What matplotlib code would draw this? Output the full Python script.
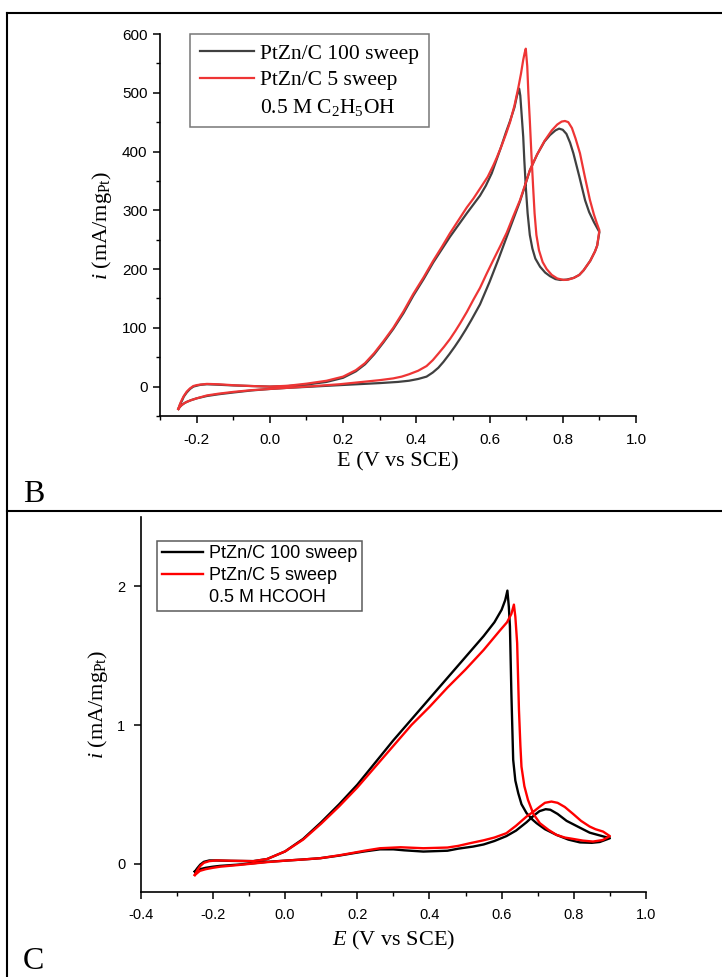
import matplotlib
matplotlib.use("Agg")
import matplotlib.pyplot as plt
from matplotlib.lines import Line2D
from matplotlib.ticker import MultipleLocator

plt.rcParams['font.family'] = ['Liberation Sans', 'DejaVu Sans']
plt.rcParams['mathtext.fontset'] = 'custom'
plt.rcParams['mathtext.rm'] = 'Liberation Serif'
plt.rcParams['mathtext.it'] = 'Liberation Serif:italic'
plt.rcParams['axes.unicode_minus'] = False

# ---- panel B : ethanol, E (V) and i (mA/mgPt) ----
b100_E = [-0.25, -0.245, -0.24, -0.233, -0.227, -0.215, -0.2, -0.172, -0.14, -0.1, -0.05, 0.0, 0.05,
          0.1, 0.19, 0.3, 0.35, 0.38, 0.405, 0.428, 0.445, 0.46, 0.474, 0.49, 0.505, 0.519, 0.535,
          0.55, 0.574, 0.6, 0.625, 0.647, 0.665, 0.683, 0.697, 0.71, 0.73, 0.75, 0.765, 0.78, 0.79,
          0.8, 0.81, 0.82, 0.829, 0.845, 0.861, 0.872, 0.885, 0.9,
          0.894, 0.888, 0.875, 0.857, 0.845, 0.83, 0.81, 0.793, 0.78, 0.765, 0.752, 0.738, 0.725,
          0.717, 0.71, 0.704, 0.699, 0.695, 0.692, 0.688, 0.684, 0.681, 0.675, 0.668, 0.656, 0.645,
          0.63, 0.618, 0.606, 0.59, 0.574, 0.556, 0.538, 0.515, 0.492, 0.47, 0.446, 0.42, 0.392,
          0.365, 0.337, 0.31, 0.285, 0.26, 0.235, 0.2, 0.155, 0.1, 0.05, 0.0, -0.05, -0.1, -0.14,
          -0.172, -0.19, -0.2, -0.209, -0.218, -0.227, -0.235, -0.24, -0.245, -0.25]
b100_i = [-38, -34, -31, -28, -26, -23, -20, -16, -13, -10, -6.5, -4, -2,
          -0.5, 2.5, 6, 8, 10, 13, 17, 24, 32, 42, 55, 68, 81, 97,
          113, 140, 178, 218, 255, 285, 315, 342, 368, 395, 417, 428, 436, 439,
          437, 430, 415, 397, 358, 317, 297, 280, 263,
          240, 230, 214, 198, 190, 185, 182, 181.5, 183, 188, 194, 204, 218,
          235, 258, 295, 340, 385, 425, 460, 495, 507, 495, 475, 452, 433,
          405, 384, 363, 342, 325, 310, 295, 275, 255, 234, 211, 183, 155,
          125, 98, 75, 55, 38, 26, 15, 8, 3.5, 1, 0, 1, 2, 3.2,
          4, 3, 1.5, 0, -4, -10, -17, -24, -30, -38]

b5_E = [-0.25, -0.245, -0.24, -0.233, -0.227, -0.215, -0.2, -0.172, -0.14, -0.1, -0.05, 0.0, 0.05,
        0.1, 0.19, 0.3, 0.337, 0.36, 0.38, 0.405, 0.428, 0.445, 0.46, 0.476, 0.492, 0.507, 0.52,
        0.538, 0.556, 0.574, 0.592, 0.61, 0.63, 0.647, 0.665, 0.683, 0.697, 0.71, 0.73, 0.75,
        0.77, 0.785, 0.797, 0.806, 0.815, 0.825, 0.835, 0.847, 0.86, 0.874, 0.885, 0.893, 0.9,
        0.894, 0.888, 0.875, 0.857, 0.845, 0.83, 0.815, 0.802, 0.785, 0.77, 0.756, 0.745, 0.735,
        0.728, 0.723, 0.719, 0.714, 0.71, 0.706, 0.703, 0.699, 0.696, 0.692, 0.686, 0.679, 0.668,
        0.656, 0.645, 0.633, 0.62, 0.61, 0.595, 0.574, 0.556, 0.538, 0.515, 0.492, 0.47, 0.446,
        0.42, 0.392, 0.365, 0.337, 0.31, 0.285, 0.26, 0.235, 0.2, 0.155, 0.1, 0.05, 0.0, -0.05,
        -0.1, -0.14, -0.172, -0.19, -0.2, -0.209, -0.218, -0.227, -0.235, -0.24, -0.245, -0.25]
b5_i = [-38, -34, -31, -28, -26, -23, -20, -15, -12, -9, -6, -4, -2,
        0, 4, 11, 14, 17, 21, 27, 35, 45, 56, 68, 81, 95, 108,
        127, 148, 168, 192, 215, 240, 262, 290, 317, 343, 368, 395, 418,
        436, 446, 451, 452, 450, 440, 422, 397, 358, 318, 293, 278, 266,
        240, 230, 214, 198, 190, 185, 182, 181.5, 184, 190, 200, 212, 232,
        258, 295, 340, 400, 453, 500, 545, 575, 568, 556, 533, 510, 478,
        450, 430, 410, 390, 376, 357, 337, 320, 305, 283, 261, 238, 214,
        186, 158, 128, 100, 77, 57, 40, 28, 17, 10, 5, 1.5, 0, 1,
        2.4, 4, 4.6, 3.5, 2.5, 1, -3, -8.5, -16, -22, -29, -38]

# ---- panel C : formic acid ----
c100_E = [-0.25, -0.243, -0.235, -0.225, -0.21, -0.19, -0.15, -0.088, -0.05, 0.0, 0.05, 0.1, 0.15,
          0.2, 0.25, 0.3, 0.35, 0.4, 0.45, 0.5, 0.55, 0.58, 0.6, 0.61, 0.616,
          0.62, 0.623, 0.627, 0.632, 0.638, 0.646, 0.655, 0.669, 0.685, 0.697, 0.72, 0.752, 0.785,
          0.817, 0.85, 0.872, 0.9,
          0.872, 0.844, 0.81, 0.78, 0.755, 0.735, 0.722, 0.705, 0.69, 0.669, 0.64, 0.613, 0.58,
          0.55, 0.521, 0.48, 0.45, 0.383, 0.33, 0.3, 0.263, 0.22, 0.189, 0.15, 0.097, 0.05, 0.003,
          -0.05, -0.088, -0.13, -0.18, -0.2, -0.22, -0.236, -0.25]
c100_i = [-0.055, -0.03, -0.005, 0.015, 0.025, 0.025, 0.022, 0.02, 0.035, 0.09, 0.18, 0.30, 0.43,
          0.57, 0.73, 0.89, 1.04, 1.19, 1.34, 1.49, 1.64, 1.74, 1.83, 1.9, 1.968,
          1.85, 1.71, 1.23, 0.75, 0.6, 0.51, 0.43, 0.366, 0.32, 0.293, 0.25, 0.209, 0.175,
          0.155, 0.152, 0.158, 0.185,
          0.205, 0.225, 0.27, 0.31, 0.36, 0.39, 0.394, 0.38, 0.35, 0.30, 0.24, 0.2, 0.165,
          0.14, 0.125, 0.11, 0.095, 0.089, 0.098, 0.105, 0.105, 0.09, 0.077, 0.06, 0.041, 0.032, 0.024,
          0.015, 0.005, -0.005, -0.014, -0.02, -0.028, -0.038, -0.055]

c5_E = [-0.25, -0.243, -0.235, -0.225, -0.21, -0.19, -0.15, -0.088, -0.05, 0.0, 0.05, 0.1, 0.15,
        0.2, 0.25, 0.3, 0.35, 0.4, 0.45, 0.5, 0.55, 0.595, 0.615, 0.627, 0.634,
        0.638, 0.643, 0.648, 0.652, 0.655, 0.663, 0.673, 0.688, 0.706, 0.73, 0.752, 0.775, 0.798,
        0.825, 0.853, 0.88, 0.9,
        0.881, 0.86, 0.844, 0.82, 0.798, 0.775, 0.755, 0.738, 0.72, 0.706, 0.69, 0.669, 0.64,
        0.613, 0.58, 0.55, 0.512, 0.48, 0.45, 0.383, 0.32, 0.263, 0.22, 0.189, 0.15, 0.097, 0.05,
        0.003, -0.05, -0.088, -0.13, -0.18, -0.2, -0.22, -0.236, -0.25]
c5_i = [-0.08, -0.045, -0.015, 0.008, 0.02, 0.025, 0.023, 0.02, 0.035, 0.09, 0.175, 0.29, 0.415,
        0.55, 0.70, 0.85, 1.0, 1.13, 1.27, 1.40, 1.54, 1.68, 1.74, 1.80, 1.867,
        1.78, 1.59, 1.11, 0.85, 0.70, 0.56, 0.461, 0.36, 0.293, 0.245, 0.209, 0.19, 0.18,
        0.168, 0.161, 0.172, 0.2,
        0.233, 0.25, 0.269, 0.31, 0.36, 0.41, 0.44, 0.449, 0.44, 0.413, 0.38, 0.341, 0.275,
        0.221, 0.19, 0.17, 0.149, 0.13, 0.118, 0.113, 0.12, 0.113, 0.095, 0.08, 0.062, 0.041, 0.032,
        0.024, 0.013, 0.003, -0.008, -0.02, -0.028, -0.038, -0.05, -0.08]

W, H = 722, 977
fig = plt.figure(figsize=(W / 100, H / 100), dpi=100)

serif = 'Liberation Serif'


def style_axes(ax, tick_size):
    ax.spines['top'].set_visible(False)
    ax.spines['right'].set_visible(False)
    for s in ('left', 'bottom'):
        ax.spines[s].set_linewidth(1.2)
    ax.tick_params(which='major', direction='out', length=5, width=1.1, labelsize=tick_size)
    ax.tick_params(which='minor', direction='out', length=3, width=1.0)
    ax.tick_params(axis='x', pad=7)
    ax.tick_params(axis='y', pad=4)


# ---------------- panel B ----------------
axB = fig.add_axes([160 / W, 1 - 416 / H, 476 / W, 382 / H])
axB.plot(b100_E, b100_i, color='#404040', lw=1.6, label='PtZn/C 100 sweep')
axB.plot(b5_E, b5_i, color='#ee3535', lw=1.6, label='PtZn/C 5 sweep')
axB.plot([], [], ' ', label='0.5 M C$_2$H$_5$OH')
axB.set_xlim(-0.3, 1.0)
axB.set_ylim(-50, 600)
axB.xaxis.set_minor_locator(MultipleLocator(0.1))
axB.yaxis.set_major_locator(MultipleLocator(100))
axB.yaxis.set_minor_locator(MultipleLocator(50))
axB.set_xticks([-0.2, 0.0, 0.2, 0.4, 0.6, 0.8, 1.0])
axB.set_xticklabels(['-0.2', '0.0', '0.2', '0.4', '0.6', '0.8', '1.0'])
style_axes(axB, 11)
axB.set_xlabel('E (V vs SCE)', family=serif, fontsize=16, labelpad=4)
axB.set_ylabel('$i$ (mA/mg$_{\\mathrm{Pt}}$)', family=serif, fontsize=16, labelpad=6)
legB = axB.legend(loc='upper left', bbox_to_anchor=(30 / 476, 1.0), borderaxespad=0,
                  prop={'family': serif, 'size': 15.5}, frameon=True, fancybox=False,
                  handlelength=2.5, handletextpad=0.3, borderpad=0.45, labelspacing=0.3)
legB.get_frame().set_edgecolor('#555555')
legB.get_frame().set_linewidth(1.1)

# ---------------- panel C ----------------
axC = fig.add_axes([140.7 / W, 1 - 891.7 / H, 505.3 / W, 375 / H])
axC.plot(c100_E, c100_i, color='black', lw=1.7, label='PtZn/C 100 sweep')
axC.plot(c5_E, c5_i, color='#ff0000', lw=1.7, label='PtZn/C 5 sweep')
axC.plot([], [], ' ', label='0.5 M HCOOH')
axC.set_xlim(-0.4, 1.0)
axC.set_ylim(-0.2, 2.5)
axC.xaxis.set_minor_locator(MultipleLocator(0.1))
axC.set_xticks([-0.4, -0.2, 0.0, 0.2, 0.4, 0.6, 0.8, 1.0])
axC.set_xticklabels(['-0.4', '-0.2', '0.0', '0.2', '0.4', '0.6', '0.8', '1.0'])
axC.set_yticks([0, 1, 2])
style_axes(axC, 10.5)
axC.tick_params(axis='y', pad=6)
axC.set_xlabel('$E$ (V vs SCE)', family=serif, fontsize=16, labelpad=5)
axC.set_ylabel('$i$ (mA/mg$_{\\mathrm{Pt}}$)', family=serif, fontsize=16, labelpad=5)
legC = axC.legend(loc='upper left', bbox_to_anchor=(16.6 / 505.3, 1 - 24 / 375), borderaxespad=0,
                  prop={'size': 13}, frameon=True, fancybox=False,
                  handlelength=2.3, handletextpad=0.3, borderpad=0.25, labelspacing=0.28)
legC.get_frame().set_edgecolor('#333333')
legC.get_frame().set_linewidth(1.1)

# panel frames and letters
for xs, ys in [([7.3, 7.3], [13.3, H]), ([7.3, W], [13.3, 13.3]), ([7.3, W], [510.7, 510.7])]:
    fig.add_artist(Line2D([x / W for x in xs], [1 - y / H for y in ys], color='black', lw=1.5))
fig.text(23 / W, 1 - 501.7 / H, 'B', family=serif, fontsize=23, va='baseline', ha='left')
fig.text(23 / W, 1 - 969 / H, 'C', family=serif, fontsize=23, va='baseline', ha='left')

fig.savefig('out.png', dpi=100)
